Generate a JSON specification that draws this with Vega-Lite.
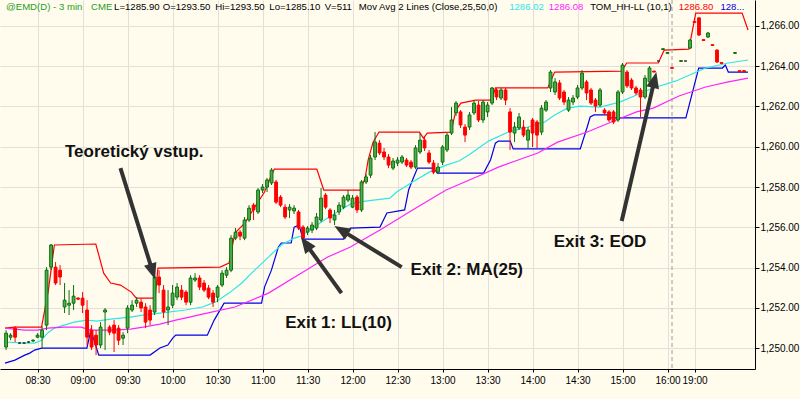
{
  "$schema": "https://vega.github.io/schema/vega-lite/v6.json",
  "width": 755,
  "height": 369,
  "autosize": {"type": "none"},
  "padding": {"left": 0, "top": 0, "right": 45, "bottom": 30},
  "background": "#fffcee",
  "config": {
    "view": {"stroke": null, "fill": "#fffcee"},
    "axis": {"labelFont": "Liberation Sans", "labelFontSize": 10, "labelColor": "#000000", "domainColor": "#000000", "tickColor": "#000000", "gridColor": "#e2e0d8"}
  },
  "datasets": {
    "candles": [
      {"i":-7,"o":1250.05,"h":1250.89,"l":1249.90,"c":1250.74},
      {"i":-6,"o":1250.54,"h":1250.74,"l":1250.39,"c":1250.64},
      {"i":-5,"o":1250.99,"h":1251.09,"l":1250.30,"c":1250.54},
      {"i":-4,"o":1250.25,"h":1250.30,"l":1250.20,"c":1250.25},
      {"i":-3,"o":1250.25,"h":1250.30,"l":1250.20,"c":1250.25},
      {"i":-2,"o":1250.30,"h":1250.35,"l":1250.25,"c":1250.30},
      {"i":-1,"o":1250.35,"h":1250.44,"l":1250.30,"c":1250.39},
      {"i":0,"o":1250.54,"h":1250.74,"l":1250.49,"c":1250.64},
      {"i":1,"o":1250.54,"h":1251.09,"l":1250.00,"c":1250.89},
      {"i":2,"o":1251.14,"h":1254.02,"l":1250.89,"c":1253.87},
      {"i":3,"o":1254.02,"h":1255.17,"l":1253.87,"c":1255.12},
      {"i":4,"o":1254.02,"h":1254.27,"l":1253.13,"c":1253.23},
      {"i":5,"o":1253.87,"h":1254.12,"l":1253.13,"c":1253.53},
      {"i":6,"o":1252.04,"h":1253.23,"l":1251.74,"c":1252.38},
      {"i":7,"o":1252.13,"h":1252.88,"l":1251.64,"c":1252.23},
      {"i":8,"o":1252.23,"h":1253.13,"l":1251.89,"c":1252.58},
      {"i":9,"o":1252.48,"h":1252.53,"l":1252.38,"c":1252.43},
      {"i":10,"o":1252.48,"h":1252.78,"l":1251.74,"c":1252.13},
      {"i":11,"o":1251.89,"h":1252.38,"l":1250.15,"c":1250.54},
      {"i":12,"o":1250.89,"h":1251.14,"l":1249.90,"c":1250.05},
      {"i":13,"o":1250.64,"h":1250.89,"l":1249.65,"c":1250.15},
      {"i":14,"o":1250.15,"h":1251.29,"l":1250.00,"c":1251.04},
      {"i":15,"o":1251.79,"h":1251.99,"l":1249.90,"c":1251.89},
      {"i":16,"o":1251.04,"h":1251.14,"l":1250.64,"c":1250.79},
      {"i":17,"o":1251.14,"h":1251.39,"l":1249.80,"c":1250.74},
      {"i":18,"o":1250.99,"h":1251.14,"l":1250.15,"c":1250.39},
      {"i":19,"o":1250.49,"h":1250.79,"l":1250.15,"c":1250.64},
      {"i":20,"o":1250.99,"h":1252.13,"l":1250.74,"c":1251.99},
      {"i":21,"o":1251.89,"h":1252.38,"l":1251.79,"c":1252.13},
      {"i":22,"o":1252.23,"h":1252.53,"l":1252.04,"c":1252.38},
      {"i":23,"o":1252.28,"h":1252.48,"l":1251.79,"c":1251.99},
      {"i":24,"o":1252.04,"h":1252.23,"l":1250.99,"c":1251.29},
      {"i":25,"o":1251.89,"h":1252.13,"l":1251.14,"c":1251.39},
      {"i":26,"o":1251.79,"h":1253.87,"l":1251.64,"c":1253.53},
      {"i":27,"o":1253.53,"h":1253.87,"l":1252.73,"c":1253.13},
      {"i":28,"o":1252.88,"h":1253.13,"l":1251.49,"c":1251.79},
      {"i":29,"o":1251.89,"h":1252.88,"l":1251.14,"c":1252.04},
      {"i":30,"o":1252.13,"h":1253.13,"l":1251.99,"c":1252.73},
      {"i":31,"o":1252.53,"h":1253.23,"l":1252.38,"c":1253.03},
      {"i":32,"o":1252.88,"h":1253.13,"l":1252.38,"c":1252.53},
      {"i":33,"o":1252.78,"h":1252.88,"l":1252.13,"c":1252.28},
      {"i":34,"o":1252.28,"h":1253.62,"l":1252.13,"c":1253.48},
      {"i":35,"o":1253.38,"h":1253.72,"l":1253.28,"c":1253.48},
      {"i":36,"o":1253.48,"h":1253.62,"l":1252.88,"c":1253.03},
      {"i":37,"o":1253.23,"h":1253.38,"l":1252.78,"c":1252.88},
      {"i":38,"o":1252.98,"h":1253.13,"l":1252.43,"c":1252.53},
      {"i":39,"o":1252.73,"h":1252.88,"l":1252.04,"c":1252.28},
      {"i":40,"o":1252.53,"h":1253.13,"l":1252.28,"c":1253.03},
      {"i":41,"o":1253.13,"h":1253.87,"l":1253.03,"c":1253.72},
      {"i":42,"o":1253.62,"h":1254.02,"l":1253.48,"c":1253.87},
      {"i":43,"o":1253.87,"h":1255.61,"l":1253.77,"c":1255.46},
      {"i":44,"o":1255.46,"h":1255.96,"l":1255.36,"c":1255.76},
      {"i":45,"o":1255.76,"h":1255.86,"l":1255.36,"c":1255.56},
      {"i":46,"o":1255.46,"h":1256.51,"l":1255.36,"c":1256.36},
      {"i":47,"o":1256.36,"h":1257.10,"l":1256.26,"c":1256.95},
      {"i":48,"o":1257.10,"h":1257.20,"l":1256.36,"c":1256.86},
      {"i":49,"o":1256.76,"h":1257.95,"l":1256.66,"c":1257.85},
      {"i":50,"o":1257.85,"h":1258.15,"l":1257.70,"c":1258.00},
      {"i":51,"o":1258.00,"h":1258.45,"l":1257.75,"c":1258.35},
      {"i":52,"o":1258.20,"h":1258.94,"l":1258.10,"c":1258.84},
      {"i":53,"o":1258.25,"h":1258.35,"l":1257.15,"c":1257.25},
      {"i":54,"o":1257.50,"h":1257.60,"l":1257.00,"c":1257.10},
      {"i":55,"o":1257.00,"h":1257.15,"l":1256.41,"c":1256.51},
      {"i":56,"o":1256.86,"h":1257.15,"l":1256.46,"c":1257.00},
      {"i":57,"o":1256.81,"h":1257.10,"l":1256.66,"c":1256.95},
      {"i":58,"o":1256.76,"h":1256.86,"l":1255.86,"c":1255.96},
      {"i":59,"o":1256.01,"h":1256.11,"l":1255.36,"c":1255.46},
      {"i":60,"o":1255.76,"h":1256.06,"l":1255.61,"c":1255.96},
      {"i":61,"o":1255.86,"h":1256.26,"l":1255.71,"c":1256.11},
      {"i":62,"o":1255.96,"h":1256.71,"l":1255.86,"c":1256.51},
      {"i":63,"o":1256.36,"h":1257.95,"l":1256.26,"c":1257.45},
      {"i":64,"o":1257.60,"h":1257.70,"l":1256.90,"c":1257.00},
      {"i":65,"o":1256.86,"h":1256.95,"l":1256.21,"c":1256.46},
      {"i":66,"o":1256.36,"h":1256.86,"l":1256.11,"c":1256.61},
      {"i":67,"o":1256.76,"h":1257.25,"l":1256.61,"c":1257.10},
      {"i":68,"o":1257.00,"h":1257.60,"l":1256.90,"c":1257.50},
      {"i":69,"o":1257.35,"h":1257.85,"l":1257.25,"c":1257.60},
      {"i":70,"o":1257.00,"h":1257.60,"l":1256.95,"c":1257.45},
      {"i":71,"o":1257.50,"h":1257.60,"l":1256.71,"c":1256.86},
      {"i":72,"o":1256.86,"h":1258.35,"l":1256.76,"c":1258.25},
      {"i":73,"o":1258.25,"h":1258.64,"l":1258.15,"c":1258.50},
      {"i":74,"o":1258.59,"h":1259.59,"l":1258.45,"c":1259.44},
      {"i":75,"o":1259.49,"h":1260.73,"l":1259.34,"c":1260.23},
      {"i":76,"o":1260.18,"h":1260.33,"l":1259.59,"c":1259.69},
      {"i":77,"o":1259.74,"h":1259.94,"l":1259.34,"c":1259.49},
      {"i":78,"o":1259.49,"h":1259.64,"l":1258.94,"c":1259.09},
      {"i":79,"o":1258.94,"h":1259.44,"l":1258.84,"c":1259.29},
      {"i":80,"o":1259.19,"h":1259.49,"l":1259.04,"c":1259.34},
      {"i":81,"o":1259.24,"h":1259.59,"l":1259.14,"c":1259.49},
      {"i":82,"o":1259.34,"h":1259.44,"l":1258.99,"c":1259.09},
      {"i":83,"o":1259.24,"h":1259.34,"l":1258.89,"c":1258.99},
      {"i":84,"o":1258.99,"h":1260.08,"l":1258.89,"c":1259.94},
      {"i":85,"o":1259.74,"h":1260.68,"l":1259.64,"c":1260.33},
      {"i":86,"o":1260.33,"h":1260.48,"l":1259.79,"c":1259.94},
      {"i":87,"o":1259.69,"h":1259.84,"l":1259.14,"c":1259.24},
      {"i":88,"o":1259.19,"h":1259.34,"l":1258.64,"c":1258.74},
      {"i":89,"o":1258.74,"h":1259.19,"l":1258.64,"c":1258.99},
      {"i":90,"o":1259.24,"h":1260.08,"l":1259.09,"c":1259.99},
      {"i":91,"o":1259.84,"h":1260.68,"l":1259.74,"c":1260.58},
      {"i":92,"o":1260.68,"h":1261.97,"l":1260.58,"c":1261.33},
      {"i":93,"o":1261.68,"h":1262.27,"l":1261.53,"c":1262.17},
      {"i":94,"o":1261.73,"h":1261.82,"l":1260.93,"c":1261.08},
      {"i":95,"o":1260.98,"h":1261.13,"l":1260.23,"c":1260.58},
      {"i":96,"o":1260.98,"h":1261.73,"l":1260.83,"c":1261.58},
      {"i":97,"o":1261.68,"h":1262.32,"l":1261.58,"c":1262.17},
      {"i":98,"o":1262.07,"h":1262.27,"l":1261.23,"c":1261.33},
      {"i":99,"o":1261.33,"h":1262.32,"l":1261.18,"c":1262.22},
      {"i":100,"o":1261.73,"h":1262.22,"l":1261.48,"c":1262.07},
      {"i":101,"o":1262.17,"h":1262.97,"l":1262.07,"c":1262.92},
      {"i":102,"o":1262.82,"h":1262.92,"l":1262.32,"c":1262.47},
      {"i":103,"o":1262.42,"h":1262.92,"l":1262.32,"c":1262.82},
      {"i":104,"o":1262.82,"h":1262.92,"l":1262.07,"c":1262.32},
      {"i":105,"o":1261.73,"h":1261.92,"l":1259.84,"c":1260.73},
      {"i":106,"o":1260.68,"h":1261.23,"l":1260.23,"c":1260.98},
      {"i":107,"o":1260.93,"h":1261.68,"l":1260.83,"c":1261.48},
      {"i":108,"o":1260.98,"h":1261.33,"l":1260.48,"c":1260.58},
      {"i":109,"o":1260.33,"h":1260.98,"l":1259.94,"c":1260.83},
      {"i":110,"o":1261.33,"h":1261.43,"l":1259.99,"c":1260.68},
      {"i":111,"o":1261.23,"h":1261.33,"l":1259.94,"c":1260.58},
      {"i":112,"o":1260.73,"h":1262.07,"l":1260.58,"c":1261.92},
      {"i":113,"o":1261.82,"h":1262.32,"l":1261.73,"c":1262.22},
      {"i":114,"o":1262.92,"h":1263.81,"l":1262.72,"c":1263.71},
      {"i":115,"o":1262.72,"h":1263.41,"l":1262.57,"c":1263.22},
      {"i":116,"o":1263.17,"h":1263.31,"l":1262.32,"c":1262.42},
      {"i":117,"o":1262.72,"h":1262.82,"l":1262.07,"c":1262.22},
      {"i":118,"o":1261.82,"h":1262.47,"l":1261.73,"c":1262.32},
      {"i":119,"o":1262.22,"h":1262.57,"l":1262.07,"c":1262.42},
      {"i":120,"o":1262.47,"h":1263.07,"l":1262.37,"c":1262.92},
      {"i":121,"o":1262.92,"h":1263.81,"l":1262.82,"c":1263.66},
      {"i":122,"o":1263.22,"h":1263.31,"l":1262.32,"c":1262.67},
      {"i":123,"o":1262.82,"h":1262.92,"l":1262.07,"c":1262.17},
      {"i":124,"o":1262.32,"h":1262.42,"l":1261.73,"c":1262.02},
      {"i":125,"o":1262.07,"h":1262.92,"l":1261.97,"c":1262.82},
      {"i":126,"o":1261.82,"h":1261.92,"l":1261.58,"c":1261.68},
      {"i":127,"o":1261.73,"h":1261.82,"l":1261.23,"c":1261.33},
      {"i":128,"o":1261.73,"h":1261.82,"l":1261.13,"c":1261.23},
      {"i":129,"o":1261.33,"h":1262.82,"l":1261.23,"c":1262.72},
      {"i":130,"o":1262.72,"h":1264.16,"l":1262.62,"c":1264.06},
      {"i":131,"o":1263.71,"h":1263.81,"l":1262.92,"c":1263.02},
      {"i":132,"o":1263.31,"h":1263.41,"l":1262.82,"c":1262.92},
      {"i":133,"o":1262.92,"h":1263.02,"l":1262.57,"c":1262.67},
      {"i":134,"o":1262.82,"h":1262.92,"l":1261.48,"c":1262.47},
      {"i":135,"o":1262.47,"h":1263.56,"l":1262.37,"c":1263.41},
      {"i":136,"o":1263.22,"h":1264.01,"l":1263.12,"c":1263.91},
      {"i":137,"o":1263.76,"h":1263.76,"l":1263.71,"c":1263.71},
      {"i":138,"o":1264.26,"h":1264.26,"l":1264.26,"c":1264.26},
      {"i":139,"o":1264.83,"h":1264.87,"l":1264.83,"c":1264.87},
      {"i":140,"o":1264.64,"h":1264.68,"l":1264.64,"c":1264.68},
      {"i":141,"o":1263.93,"h":1263.93,"l":1263.89,"c":1263.89},
      {"i":143,"o":1264.24,"h":1264.28,"l":1264.24,"c":1264.28},
      {"i":144,"o":1264.26,"h":1264.26,"l":1264.26,"c":1264.26},
      {"i":145,"o":1264.90,"h":1265.35,"l":1264.85,"c":1265.30},
      {"i":146,"o":1266.22,"h":1266.22,"l":1266.18,"c":1266.18},
      {"i":147,"o":1266.40,"h":1266.45,"l":1265.50,"c":1265.55},
      {"i":148,"o":1265.32,"h":1265.32,"l":1265.28,"c":1265.28},
      {"i":149,"o":1265.45,"h":1265.70,"l":1265.40,"c":1265.65},
      {"i":150,"o":1265.07,"h":1265.07,"l":1265.03,"c":1265.03},
      {"i":151,"o":1264.80,"h":1264.85,"l":1264.16,"c":1264.21},
      {"i":152,"o":1264.18,"h":1264.18,"l":1264.14,"c":1264.14},
      {"i":155,"o":1264.64,"h":1264.68,"l":1264.64,"c":1264.68},
      {"i":156,"o":1263.78,"h":1263.78,"l":1263.74,"c":1263.74},
      {"i":157,"o":1263.78,"h":1263.78,"l":1263.74,"c":1263.74}
    ],
    "lines": [
      {"s":"hh","i":-7.24,"v":1250.99},{"s":"hh","i":-5.04,"v":1251.04},{"s":"hh","i":0.88,"v":1251.04},{"s":"hh","i":2.41,"v":1252.88},{"s":"hh","i":3.73,"v":1255.12},{"s":"hh","i":12.94,"v":1255.17},{"s":"hh","i":14.69,"v":1253.72},{"s":"hh","i":16.23,"v":1253.23},{"s":"hh","i":18.42,"v":1253.13},{"s":"hh","i":20.83,"v":1252.78},{"s":"hh","i":21.93,"v":1252.48},{"s":"hh","i":26.10,"v":1252.48},{"s":"hh","i":26.75,"v":1253.97},{"s":"hh","i":40.57,"v":1254.02},{"s":"hh","i":42.54,"v":1254.22},{"s":"hh","i":43.86,"v":1255.71},{"s":"hh","i":46.05,"v":1256.21},{"s":"hh","i":48.25,"v":1257.00},{"s":"hh","i":50.44,"v":1257.75},{"s":"hh","i":51.32,"v":1258.25},{"s":"hh","i":52.63,"v":1258.89},{"s":"hh","i":62.06,"v":1258.89},{"s":"hh","i":63.60,"v":1257.85},{"s":"hh","i":71.71,"v":1257.85},{"s":"hh","i":72.81,"v":1258.45},{"s":"hh","i":73.46,"v":1259.34},{"s":"hh","i":74.56,"v":1260.23},{"s":"hh","i":75.88,"v":1260.73},{"s":"hh","i":84.87,"v":1260.73},{"s":"hh","i":85.75,"v":1260.43},{"s":"hh","i":86.62,"v":1260.68},{"s":"hh","i":91.89,"v":1260.73},{"s":"hh","i":92.98,"v":1261.82},{"s":"hh","i":94.08,"v":1262.17},{"s":"hh","i":97.37,"v":1262.32},{"s":"hh","i":100.88,"v":1262.32},{"s":"hh","i":101.75,"v":1262.92},{"s":"hh","i":113.38,"v":1262.92},{"s":"hh","i":114.91,"v":1263.71},{"s":"hh","i":129.82,"v":1263.76},{"s":"hh","i":130.92,"v":1264.16},{"s":"hh","i":137.94,"v":1264.16},{"s":"hh","i":139.25,"v":1264.80},{"s":"hh","i":144.74,"v":1264.85},{"s":"hh","i":146.27,"v":1266.64},{"s":"hh","i":156.58,"v":1266.64},{"s":"hh","i":157.89,"v":1265.80},
      {"s":"ll","i":-7.24,"v":1249.25},{"s":"ll","i":-5.04,"v":1249.40},{"s":"ll","i":-2.85,"v":1249.65},{"s":"ll","i":-1.75,"v":1249.75},{"s":"ll","i":-0.66,"v":1249.90},{"s":"ll","i":0.88,"v":1250.00},{"s":"ll","i":10.96,"v":1250.00},{"s":"ll","i":11.84,"v":1250.89},{"s":"ll","i":13.60,"v":1249.65},{"s":"ll","i":25.0,"v":1249.65},{"s":"ll","i":27.19,"v":1250.00},{"s":"ll","i":28.95,"v":1250.15},{"s":"ll","i":30.04,"v":1250.49},{"s":"ll","i":30.70,"v":1250.64},{"s":"ll","i":37.72,"v":1250.64},{"s":"ll","i":39.25,"v":1251.39},{"s":"ll","i":41.45,"v":1252.23},{"s":"ll","i":49.78,"v":1252.23},{"s":"ll","i":50.44,"v":1253.03},{"s":"ll","i":51.97,"v":1253.87},{"s":"ll","i":53.51,"v":1255.02},{"s":"ll","i":54.17,"v":1255.22},{"s":"ll","i":56.36,"v":1255.22},{"s":"ll","i":57.02,"v":1256.01},{"s":"ll","i":58.11,"v":1256.11},{"s":"ll","i":58.99,"v":1255.41},{"s":"ll","i":67.98,"v":1255.41},{"s":"ll","i":69.52,"v":1255.96},{"s":"ll","i":76.10,"v":1256.01},{"s":"ll","i":77.63,"v":1256.71},{"s":"ll","i":81.58,"v":1256.86},{"s":"ll","i":82.46,"v":1257.85},{"s":"ll","i":83.33,"v":1258.35},{"s":"ll","i":84.43,"v":1258.94},{"s":"ll","i":88.16,"v":1258.94},{"s":"ll","i":88.82,"v":1258.69},{"s":"ll","i":99.12,"v":1258.69},{"s":"ll","i":100.66,"v":1259.34},{"s":"ll","i":101.75,"v":1260.18},{"s":"ll","i":102.41,"v":1260.28},{"s":"ll","i":105.04,"v":1260.28},{"s":"ll","i":105.70,"v":1259.89},{"s":"ll","i":120.61,"v":1259.89},{"s":"ll","i":122.15,"v":1260.98},{"s":"ll","i":122.81,"v":1261.48},{"s":"ll","i":123.68,"v":1261.58},{"s":"ll","i":126.54,"v":1261.58},{"s":"ll","i":127.19,"v":1261.43},{"s":"ll","i":144.08,"v":1261.43},{"s":"ll","i":146.93,"v":1263.91},{"s":"ll","i":152.19,"v":1263.91},{"s":"ll","i":152.85,"v":1264.06},{"s":"ll","i":153.51,"v":1263.71},{"s":"ll","i":157.89,"v":1263.71},
      {"s":"ma25","i":-7.24,"v":1250.30},{"s":"ma25","i":-2.85,"v":1250.25},{"s":"ma25","i":-0.66,"v":1250.25},{"s":"ma25","i":0.88,"v":1250.39},{"s":"ma25","i":2.19,"v":1250.74},{"s":"ma25","i":3.73,"v":1250.99},{"s":"ma25","i":5.92,"v":1251.14},{"s":"ma25","i":8.11,"v":1251.29},{"s":"ma25","i":10.96,"v":1251.39},{"s":"ma25","i":13.16,"v":1251.34},{"s":"ma25","i":16.23,"v":1251.44},{"s":"ma25","i":20.61,"v":1251.54},{"s":"ma25","i":23.46,"v":1251.64},{"s":"ma25","i":27.19,"v":1251.74},{"s":"ma25","i":32.89,"v":1251.89},{"s":"ma25","i":36.62,"v":1252.04},{"s":"ma25","i":39.47,"v":1252.28},{"s":"ma25","i":42.54,"v":1252.73},{"s":"ma25","i":45.39,"v":1253.23},{"s":"ma25","i":48.25,"v":1253.87},{"s":"ma25","i":51.32,"v":1254.52},{"s":"ma25","i":54.17,"v":1255.12},{"s":"ma25","i":57.02,"v":1255.46},{"s":"ma25","i":58.55,"v":1255.56},{"s":"ma25","i":61.40,"v":1256.01},{"s":"ma25","i":64.47,"v":1256.46},{"s":"ma25","i":67.32,"v":1256.86},{"s":"ma25","i":69.52,"v":1257.15},{"s":"ma25","i":72.81,"v":1257.30},{"s":"ma25","i":78.29,"v":1257.45},{"s":"ma25","i":79.82,"v":1257.75},{"s":"ma25","i":83.33,"v":1258.25},{"s":"ma25","i":87.06,"v":1258.74},{"s":"ma25","i":90.79,"v":1259.09},{"s":"ma25","i":93.64,"v":1259.29},{"s":"ma25","i":95.83,"v":1259.59},{"s":"ma25","i":100.22,"v":1260.28},{"s":"ma25","i":104.61,"v":1260.73},{"s":"ma25","i":109.0,"v":1260.98},{"s":"ma25","i":112.72,"v":1261.23},{"s":"ma25","i":114.91,"v":1261.58},{"s":"ma25","i":117.76,"v":1261.92},{"s":"ma25","i":120.61,"v":1262.02},{"s":"ma25","i":125.0,"v":1261.97},{"s":"ma25","i":129.39,"v":1262.22},{"s":"ma25","i":133.11,"v":1262.57},{"s":"ma25","i":136.84,"v":1262.92},{"s":"ma25","i":141.89,"v":1263.27},{"s":"ma25","i":148.46,"v":1263.91},{"s":"ma25","i":153.51,"v":1264.16},{"s":"ma25","i":157.89,"v":1264.31},
      {"s":"ma50","i":-7.24,"v":1250.99},{"s":"ma50","i":-2.85,"v":1250.89},{"s":"ma50","i":0,"v":1250.89},{"s":"ma50","i":2.19,"v":1250.99},{"s":"ma50","i":5.92,"v":1251.04},{"s":"ma50","i":9.65,"v":1251.04},{"s":"ma50","i":11.84,"v":1250.89},{"s":"ma50","i":16.89,"v":1250.89},{"s":"ma50","i":20.61,"v":1250.94},{"s":"ma50","i":23.46,"v":1251.04},{"s":"ma50","i":27.19,"v":1251.19},{"s":"ma50","i":30.70,"v":1251.39},{"s":"ma50","i":33.77,"v":1251.54},{"s":"ma50","i":36.62,"v":1251.69},{"s":"ma50","i":43.86,"v":1252.04},{"s":"ma50","i":51.32,"v":1252.73},{"s":"ma50","i":58.55,"v":1253.72},{"s":"ma50","i":64.47,"v":1254.52},{"s":"ma50","i":69.52,"v":1255.02},{"s":"ma50","i":76.10,"v":1255.86},{"s":"ma50","i":83.33,"v":1256.86},{"s":"ma50","i":90.79,"v":1257.85},{"s":"ma50","i":98.03,"v":1258.55},{"s":"ma50","i":102.41,"v":1258.99},{"s":"ma50","i":106.80,"v":1259.34},{"s":"ma50","i":111.18,"v":1259.69},{"s":"ma50","i":115.57,"v":1260.23},{"s":"ma50","i":122.15,"v":1260.73},{"s":"ma50","i":128.07,"v":1261.28},{"s":"ma50","i":133.11,"v":1261.73},{"s":"ma50","i":136.84,"v":1261.92},{"s":"ma50","i":142.54,"v":1262.52},{"s":"ma50","i":148.46,"v":1262.97},{"s":"ma50","i":153.51,"v":1263.22},{"s":"ma50","i":157.89,"v":1263.41}
    ],
    "breaks": [{"i": 141.0}],
    "arrows": [
      {"i":18.42,"v":1258.94,"i2":25.57,"v2":1253.80,"a":162.5},
      {"i":67.54,"v":1252.73,"i2":59.58,"v2":1255.19,"a":-36.2},
      {"i":80.92,"v":1254.02,"i2":67.50,"v2":1255.86,"a":-58.9},
      {"i":129.82,"v":1256.31,"i2":137.11,"v2":1263.32,"a":13.2}
    ],
    "notes": [
      {"t":"Teoretický vstup.","i":21.49,"v":1259.74},
      {"t":"Exit 1: LL(10)","i":66.89,"v":1251.24},
      {"t":"Exit 2: MA(25)","i":95.39,"v":1253.87},
      {"t":"Exit 3: EOD","i":125.0,"v":1255.27}
    ],
    "header": [
      {"t":"@EMD(D) - 3 min","i":-7.02,"v":1266.94,"k":"sym"},
      {"t":"CME","i":11.9,"v":1266.94,"k":"sym"},
      {"t":"L=1285.90","i":17.0,"v":1266.94,"k":"txt"},
      {"t":"O=1293.50","i":27.8,"v":1266.94,"k":"txt"},
      {"t":"Hi=1293.50","i":39.5,"v":1266.94,"k":"txt"},
      {"t":"Lo=1285.10","i":51.5,"v":1266.94,"k":"txt"},
      {"t":"V=511","i":63.8,"v":1266.94,"k":"txt"},
      {"t":"Mov Avg 2 Lines (Close,25,50,0)","i":71.4,"v":1266.94,"k":"txt"},
      {"t":"1286.02","i":104.8,"v":1266.94,"k":"ma25"},
      {"t":"1286.08","i":113.6,"v":1266.94,"k":"ma50"},
      {"t":"TOM_HH-LL (10,1)","i":122.8,"v":1266.94,"k":"txt"},
      {"t":"1286.80","i":142.5,"v":1266.94,"k":"hh"},
      {"t":"128...","i":151.75,"v":1266.94,"k":"ll"}
    ]
  },
  "layer": [
    {
      "data": {"name": "lines"},
      "mark": {"type": "line", "strokeWidth": 1.2, "clip": true},
      "encoding": {
        "x": {"field": "i", "type": "quantitative", "title": null, "scale": {"domain": [-7.24, 158.33], "nice": false, "zero": false},
              "axis": {"values": [0,10,20,30,40,50,60,70,80,90,100,110,120,130,140,146], "labelExpr": "datum.value == 140 ? '16:00' : datum.value == 146 ? '19:00' : timeFormat(datetime(2000, 0, 1, 8, 30 + datum.value * 3), '%H:%M')", "grid": true, "tickSize": 3, "labelPadding": 3, "labelOverlap": false, "labelFlush": false, "title": null}},
        "y": {"field": "v", "type": "quantitative", "title": null, "scale": {"domain": [1248.96, 1267.29], "nice": false, "zero": false},
              "axis": {"orient": "right", "values": [1250,1252,1254,1256,1258,1260,1262,1264,1266], "format": ",.2f", "grid": true, "tickSize": 4, "labelPadding": 1, "title": null}},
        "color": {"field": "s", "type": "nominal", "legend": null,
                  "scale": {"domain": ["hh","ll","ma25","ma50","sym","txt"], "range": ["#ff0000","#0000e8","#2ee6e6","#ff22ff","#1e9e1e","#000000"]}},
        "detail": {"field": "s"}
      }
    },
    {
      "data": {"name": "breaks"},
      "mark": {"type": "rule", "color": "#9a9a9a", "strokeDash": [4, 3], "strokeWidth": 1},
      "encoding": {
        "x": {"field": "i", "type": "quantitative", "title": null, "scale": {"domain": [-7.24, 158.33], "nice": false, "zero": false}}
      }
    },
    {
      "data": {"name": "candles"},
      "mark": {"type": "rule", "strokeWidth": 1},
      "encoding": {
        "x": {"field": "i", "type": "quantitative", "title": null, "scale": {"domain": [-7.24, 158.33], "nice": false, "zero": false}},
        "y": {"field": "l", "type": "quantitative", "title": null, "scale": {"domain": [1248.96, 1267.29], "nice": false, "zero": false}},
        "y2": {"field": "h"},
        "color": {"condition": [{"test": "datum.c > datum.o", "value": "#0a6e0a"}, {"test": "datum.c < datum.o", "value": "#ff0000"}], "value": "#333333"}
      }
    },
    {
      "data": {"name": "candles"},
      "mark": {"type": "bar", "size": 2.8, "strokeWidth": 1},
      "encoding": {
        "x": {"field": "i", "type": "quantitative", "title": null, "scale": {"domain": [-7.24, 158.33], "nice": false, "zero": false}},
        "y": {"field": "o", "type": "quantitative", "title": null, "scale": {"domain": [1248.96, 1267.29], "nice": false, "zero": false}},
        "y2": {"field": "c"},
        "fill": {"condition": [{"test": "datum.c > datum.o", "value": "#4fae4f"}, {"test": "datum.c < datum.o", "value": "#ff0000"}], "value": "#333333"},
        "stroke": {"condition": [{"test": "datum.c > datum.o", "value": "#0a6e0a"}, {"test": "datum.c < datum.o", "value": "#ff0000"}], "value": "#333333"}
      }
    },
    {
      "data": {"name": "arrows"},
      "mark": {"type": "rule", "color": "#333333", "strokeWidth": 4},
      "encoding": {
        "x": {"field": "i", "type": "quantitative", "title": null, "scale": {"domain": [-7.24, 158.33], "nice": false, "zero": false}},
        "y": {"field": "v", "type": "quantitative", "title": null, "scale": {"domain": [1248.96, 1267.29], "nice": false, "zero": false}},
        "x2": {"field": "i2"},
        "y2": {"field": "v2"}
      }
    },
    {
      "data": {"name": "arrows"},
      "mark": {"type": "point", "shape": "M0,-1L-0.8,1L0.8,1Z", "filled": true, "color": "#333333", "opacity": 1, "size": 260},
      "encoding": {
        "x": {"field": "i2", "type": "quantitative", "title": null, "scale": {"domain": [-7.24, 158.33], "nice": false, "zero": false}},
        "y": {"field": "v2", "type": "quantitative", "title": null, "scale": {"domain": [1248.96, 1267.29], "nice": false, "zero": false}},
        "angle": {"field": "a", "type": "quantitative", "scale": null}
      }
    },
    {
      "data": {"name": "notes"},
      "mark": {"type": "text", "font": "Liberation Sans", "fontWeight": "bold", "fontSize": 17, "color": "#111111", "align": "center", "baseline": "middle"},
      "encoding": {
        "x": {"field": "i", "type": "quantitative", "title": null, "scale": {"domain": [-7.24, 158.33], "nice": false, "zero": false}},
        "y": {"field": "v", "type": "quantitative", "title": null, "scale": {"domain": [1248.96, 1267.29], "nice": false, "zero": false}},
        "text": {"field": "t"}
      }
    },
    {
      "data": {"name": "header"},
      "mark": {"type": "text", "font": "Liberation Sans", "fontSize": 9.6, "align": "left", "baseline": "middle"},
      "encoding": {
        "x": {"field": "i", "type": "quantitative", "title": null, "scale": {"domain": [-7.24, 158.33], "nice": false, "zero": false}},
        "y": {"field": "v", "type": "quantitative", "title": null, "scale": {"domain": [1248.96, 1267.29], "nice": false, "zero": false}},
        "text": {"field": "t"},
        "color": {"field": "k", "type": "nominal", "legend": null,
                  "scale": {"domain": ["hh","ll","ma25","ma50","sym","txt"], "range": ["#ff0000","#0000e8","#2ee6e6","#ff22ff","#1e9e1e","#000000"]}}
      }
    }
  ]
}
